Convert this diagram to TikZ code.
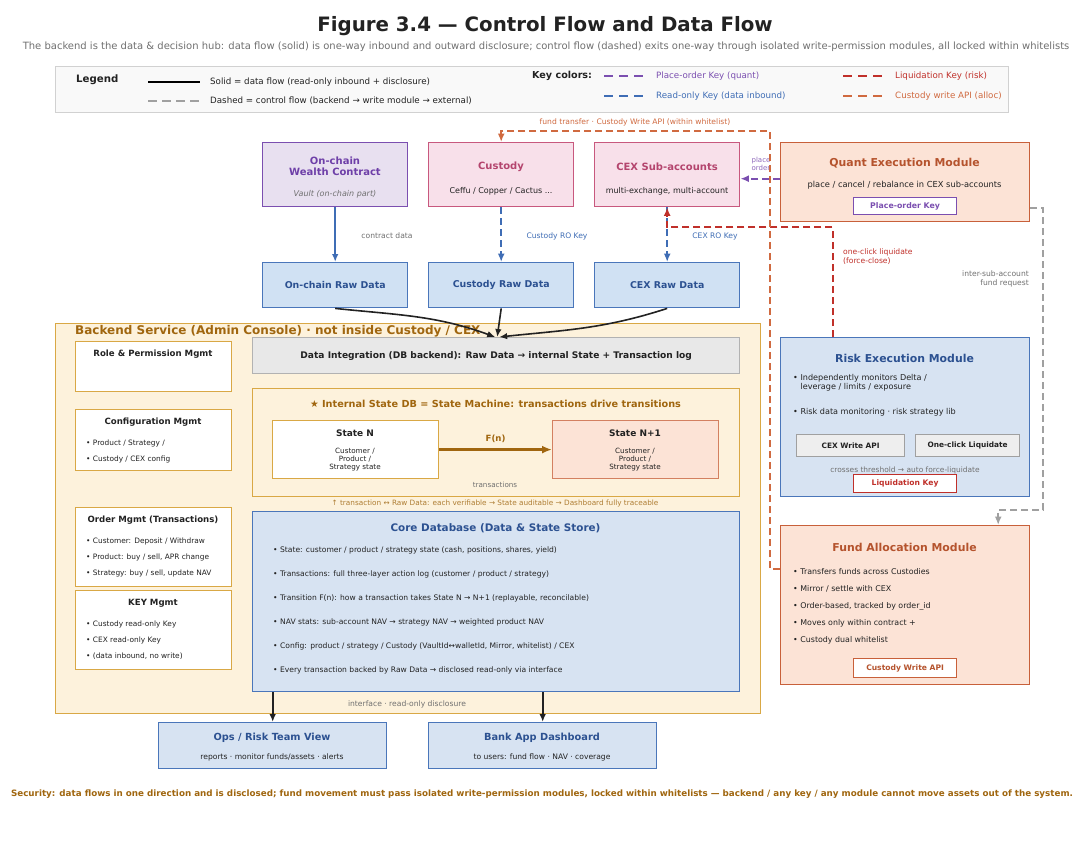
\documentclass[tikz,border=0pt]{standalone}
\usepackage{fontspec}
\setmainfont{DejaVu Sans}
\usetikzlibrary{arrows.meta, positioning}

\newcommand{\fsz}[2]{\fontsize{#1}{#2}\selectfont}

\definecolor{ink}{HTML}{222222}
\definecolor{muted}{HTML}{707070}
\definecolor{purpleB}{HTML}{7B4FB0}
\definecolor{purpleF}{HTML}{E8E0F0}
\definecolor{purpleT}{HTML}{6E3FA8}
\definecolor{pinkB}{HTML}{C8587E}
\definecolor{pinkF}{HTML}{F8E0EA}
\definecolor{pinkT}{HTML}{B4456E}
\definecolor{blueB}{HTML}{4A76BA}
\definecolor{rawF}{HTML}{D0E1F3}
\definecolor{coreF}{HTML}{D7E3F2}
\definecolor{blueT}{HTML}{2C5191}
\definecolor{orangeB}{HTML}{C8603A}
\definecolor{orangeF}{HTML}{FCE3D6}
\definecolor{orangeT}{HTML}{B5532D}
\definecolor{goldB}{HTML}{D9A845}
\definecolor{goldF}{HTML}{FDF2DC}
\definecolor{goldT}{HTML}{A0660F}
\definecolor{riskR}{HTML}{C0302A}
\definecolor{custO}{HTML}{D06A40}
\definecolor{roBlue}{HTML}{3F6DB5}
\definecolor{grayL}{HTML}{A0A0A0}
\definecolor{legF}{HTML}{F9F9F9}
\definecolor{integF}{HTML}{E8E8E8}
\definecolor{btnF}{HTML}{EEEEEE}

\begin{document}
\begin{tikzpicture}[x=1pt, y=-1pt,
  panel/.style={draw, line width=1.4pt, anchor=north west, inner sep=0pt},
  hd/.style={font=\bfseries\fsz{10}{11.5}, text=ink, inner sep=0pt},
  tx/.style={font=\fsz{8}{9}, text=ink, inner sep=0pt},
  bl/.style={font=\fsz{7.6}{9}, text=ink, inner sep=0pt, anchor=west},
  keybox/.style={draw, line width=1.2pt, fill=white, inner sep=0pt, anchor=north west, font=\bfseries\fsz{7.8}{9}},
  btn/.style={draw=grayL, line width=1.2pt, fill=btnF, inner sep=0pt, anchor=north west, font=\bfseries\fsz{7.4}{8}, text=ink},
  note/.style={font=\fsz{7.6}{9}, text=muted, inner sep=0pt},
  flow/.style={line width=1.6pt, -{Latex[length=8pt,width=6.5pt]}},
  ctrl/.style={line width=1.9pt, dash pattern=on 7pt off 4pt, -{Latex[length=8.5pt,width=7pt]}}
]
\path[use as bounding box, fill=white] (0,0) rectangle (1084,841);

% title
\node[font=\bfseries\fsz{19.8}{22}, text=ink] (title) at (545,26) {Figure 3.4 — Control Flow and Data Flow};
\node[font=\fsz{10}{12}, text=muted] (subtitle) at (546,47) {The backend is the data \& decision hub: data flow (solid) is one-way inbound and outward disclosure; control flow (dashed) exits one-way through isolated write-permission modules, all locked within whitelists};

% legend
\node[panel, draw=black!18, fill=legF, line width=1.2pt, minimum width=953pt, minimum height=46pt] (legend) at (55,66) {};
\node[hd, font=\bfseries\fsz{10.2}{11}, anchor=west] (legT) at (76,80) {Legend};
\coordinate (lgA) at (148,82); \coordinate (lgB) at (200,82);
\coordinate (lgC) at (148,101); \coordinate (lgD) at (200,101);
\draw[line width=2.2pt] (lgA) -- (lgB);
\draw[line width=2.2pt, grayL, dash pattern=on 9pt off 5pt] (lgC) -- (lgD);
\node[bl, font=\fsz{8.7}{9}] (legSolid) at (210,82) {Solid = data flow (read-only inbound + disclosure)};
\node[bl, font=\fsz{8.7}{9}] (legDash) at (210,101) {Dashed = control flow (backend → write module → external)};
\node[hd, font=\bfseries\fsz{9.6}{11}, anchor=west] (keyT) at (532,76) {Key colors:};
\foreach \nm/\xa/\ya/\col/\txt in {kq/604/76/purpleB/{Place-order Key (quant)}, kr/604/96/roBlue/{Read-only Key (data inbound)}, kl/843/76/riskR/{Liquidation Key (risk)}, kc/843/96/custO/{Custody write API (alloc)}}{
  \coordinate (\nm a) at (\xa,\ya);
  \coordinate (\nm b) at (\xa+41,\ya);
  \draw[line width=2.2pt, \col, dash pattern=on 9pt off 6pt] (\nm a) -- (\nm b);
  \node[bl, font=\fsz{8.7}{9}, text=\col] (\nm t) at (\xa+52,\ya) {\txt};
}

% top row: external systems
\node[panel, draw=purpleB, fill=purpleF, minimum width=145pt, minimum height=64pt] (wealth) at (262,142) {};
\node[hd, text=purpleT, align=center] (wealthT) at (335,166.5) {On-chain\\Wealth Contract};
\node[tx, font=\itshape\fsz{8}{9}, text=muted] (wealthS) at (335,194) {Vault (on-chain part)};
\node[panel, draw=pinkB, fill=pinkF, minimum width=145pt, minimum height=64pt] (custody) at (428,142) {};
\node[hd, text=pinkT] (custodyT) at (501,167) {Custody};
\node[tx] (custodyS) at (501,191) {Ceffu / Copper / Cactus ...};
\node[panel, draw=pinkB, fill=pinkF, minimum width=145pt, minimum height=64pt] (cex) at (594,142) {};
\node[hd, text=pinkT] (cexT) at (667,167) {CEX Sub-accounts};
\node[tx] (cexS) at (667,191) {multi-exchange, multi-account};

% quant module
\node[panel, draw=orangeB, fill=orangeF, minimum width=249pt, minimum height=79pt] (quant) at (780,142) {};
\node[hd, font=\bfseries\fsz{10.9}{12}, text=orangeT] (quantT) at (904.5,163) {Quant Execution Module};
\node[tx, font=\fsz{8.3}{9}] (quantS) at (904.5,185) {place / cancel / rebalance in CEX sub-accounts};
\node[keybox, draw=purpleB, text=purpleB, minimum width=103pt, minimum height=17pt] (placeKey) at (853,197) {Place-order Key};

% raw data row
\foreach \nm/\xa/\txt in {chainraw/262/{On-chain Raw Data}, custraw/428/{Custody Raw Data}, cexraw/594/{CEX Raw Data}}{
  \node[panel, draw=blueB, fill=rawF, minimum width=145pt, minimum height=45pt, font=\bfseries\fsz{9.4}{10}, text=blueT] (\nm) at (\xa,262) {\txt};
}

% backend container
\node[panel, draw=goldB, fill=goldF, minimum width=705pt, minimum height=390pt] (backend) at (55,323) {};
\node[hd, font=\bfseries\fsz{12}{13}, text=goldT, anchor=west] (backendT) at (75,331) {Backend Service (Admin Console) · not inside Custody / CEX};

% left column
\node[panel, draw=goldB, fill=white, minimum width=156pt, minimum height=50pt] (role) at (75,341) {};
\node[hd, font=\bfseries\fsz{8.6}{9}] (roleT) at (153,354) {Role \& Permission Mgmt};
\node[panel, draw=goldB, fill=white, minimum width=156pt, minimum height=61pt] (conf) at (75,409) {};
\node[hd, font=\bfseries\fsz{8.6}{9}] (confT) at (153,422) {Configuration Mgmt};
\node[bl, font=\fsz{7.4}{8}] (conf1) at (86,443) {• Product / Strategy /};
\node[bl, font=\fsz{7.4}{8}] (conf2) at (86,459) {• Custody / CEX config};
\node[panel, draw=goldB, fill=white, minimum width=156pt, minimum height=79pt] (order) at (75,507) {};
\node[hd, font=\bfseries\fsz{8.6}{9}] (orderT) at (153,520) {Order Mgmt (Transactions)};
\node[bl, font=\fsz{7.4}{8}] (order1) at (86,541) {• Customer: Deposit / Withdraw};
\node[bl, font=\fsz{7.4}{8}] (order2) at (86,557) {• Product: buy / sell, APR change};
\node[bl, font=\fsz{7.4}{8}] (order3) at (86,573) {• Strategy: buy / sell, update NAV};
\node[panel, draw=goldB, fill=white, minimum width=156pt, minimum height=79pt] (keym) at (75,590) {};
\node[hd, font=\bfseries\fsz{8.6}{9}] (keymT) at (153,603) {KEY Mgmt};
\node[bl, font=\fsz{7.4}{8}] (keym1) at (86,624) {• Custody read-only Key};
\node[bl, font=\fsz{7.4}{8}] (keym2) at (86,640) {• CEX read-only Key};
\node[bl, font=\fsz{7.4}{8}] (keym3) at (86,656) {• (data inbound, no write)};

% data integration
\node[panel, draw=black!30, fill=integF, minimum width=487pt, minimum height=36pt, font=\bfseries\fsz{9.1}{10}, text=ink] (integ) at (252,337) {Data Integration (DB backend): Raw Data → internal State + Transaction log};

% internal state machine
\node[panel, draw=goldB, fill=goldF, minimum width=487pt, minimum height=108pt] (statedb) at (252,388) {};
\node[hd, font=\bfseries\fsz{9.7}{10}, text=goldT] (statedbT) at (495.5,404) {★ Internal State DB = State Machine: transactions drive transitions};
\node[panel, draw=goldB, line width=1.2pt, fill=white, minimum width=166pt, minimum height=58pt] (stateN) at (272,420) {};
\node[hd, font=\bfseries\fsz{9}{10}] (stateNT) at (355,433) {State N};
\node[tx, font=\fsz{7.2}{8}, align=center] (stateNS) at (355,459.5) {Customer /\\Product /\\Strategy state};
\node[panel, draw=orangeB!80, line width=1.2pt, fill=orangeF, minimum width=166pt, minimum height=58pt] (stateN1) at (552,420) {};
\node[hd, font=\bfseries\fsz{9}{10}] (stateN1T) at (635,433) {State N+1};
\node[tx, font=\fsz{7.2}{8}, align=center] (stateN1S) at (635,459.5) {Customer /\\Product /\\Strategy state};
\draw[line width=2.4pt, goldT, -{Latex[length=10pt,width=8pt]}] (stateN) -- node[above=6pt, font=\bfseries\fsz{8.6}{9}, text=goldT, inner sep=0pt] (fnT) {F(n)} (stateN1);
\node[note, font=\fsz{7.2}{8}] (transT) at (495,485) {transactions};
\node[note, font=\fsz{7.3}{8}, text=goldT!85] (traceT) at (495,503) {↑ transaction ↔ Raw Data: each verifiable → State auditable → Dashboard fully traceable};

% core database
\node[panel, draw=blueB, fill=coreF, minimum width=487pt, minimum height=180pt] (core) at (252,511) {};
\node[hd, font=\bfseries\fsz{10.4}{11}, text=blueT] (coreT) at (495.5,528) {Core Database (Data \& State Store)};
\foreach \txt [count=\i from 0] in {{State: customer / product / strategy state (cash, positions, shares, yield)}, {Transactions: full three-layer action log (customer / product / strategy)}, {Transition F(n): how a transaction takes State N → N+1 (replayable, reconcilable)}, {NAV stats: sub-account NAV → strategy NAV → weighted product NAV}, {Config: product / strategy / Custody (VaultId↔walletId, Mirror, whitelist) / CEX}, {Every transaction backed by Raw Data → disclosed read-only via interface}}{
  \node[bl] (core\i) at (273,550+24*\i) {• \txt};
}

% outputs
\node[panel, draw=blueB, fill=coreF, minimum width=228pt, minimum height=46pt] (ops) at (158,722) {};
\node[hd, font=\bfseries\fsz{9.8}{11}, text=blueT] (opsT) at (272,738) {Ops / Risk Team View};
\node[tx, font=\fsz{7.6}{8}] (opsS) at (272,757) {reports · monitor funds/assets · alerts};
\node[panel, draw=blueB, fill=coreF, minimum width=228pt, minimum height=46pt] (bank) at (428,722) {};
\node[hd, font=\bfseries\fsz{9.8}{11}, text=blueT] (bankT) at (542,738) {Bank App Dashboard};
\node[tx, font=\fsz{7.6}{8}] (bankS) at (542,757) {to users: fund flow · NAV · coverage};
\node[note] (ifaceT) at (407,704) {interface · read-only disclosure};

% risk module
\node[panel, draw=blueB, fill=coreF, minimum width=249pt, minimum height=159pt] (risk) at (780,337) {};
\node[hd, font=\bfseries\fsz{10.9}{12}, text=blueT] (riskT) at (904.5,358) {Risk Execution Module};
\node[bl, font=\fsz{8.1}{9.5}, align=left, anchor=north west] (risk1) at (793,374) {• Independently monitors Delta /\\\phantom{• }leverage / limits / exposure};
\node[bl, font=\fsz{8.1}{9}] (risk2) at (793,412) {• Risk data monitoring · risk strategy lib};
\node[btn, minimum width=108pt, minimum height=22pt] (cexWrite) at (796,434) {CEX Write API};
\node[btn, minimum width=104pt, minimum height=22pt] (oneClick) at (915,434) {One-click Liquidate};
\node[note, font=\fsz{7.45}{8}] (threshT) at (905,470) {crosses threshold → auto force-liquidate};
\node[keybox, draw=riskR, text=riskR, minimum width=103pt, minimum height=18pt, font=\bfseries\fsz{7.6}{8}] (liqKey) at (853,474) {Liquidation Key};

% fund allocation module
\node[panel, draw=orangeB, fill=orangeF, minimum width=249pt, minimum height=159pt] (fund) at (780,525) {};
\node[hd, font=\bfseries\fsz{10.9}{12}, text=orangeT] (fundT) at (904.5,547) {Fund Allocation Module};
\foreach \txt [count=\i from 0] in {Transfers funds across Custodies, Mirror / settle with CEX, {Order-based, tracked by order\_id}, Moves only within contract +, Custody dual whitelist}{
  \node[bl, font=\fsz{7.9}{9}] (fund\i) at (793,572+17*\i) {• \txt};
}
\node[keybox, draw=orangeB, text=orangeT, minimum width=103pt, minimum height=19pt, font=\bfseries\fsz{7.6}{8}] (custKey) at (853,658) {Custody Write API};

% data flow: sources -> raw data
\draw[flow, roBlue] (wealth) -- (chainraw);
\draw[ctrl, roBlue] (custody) -- (custraw);
\draw[ctrl, roBlue] (cex) -- (cexraw);
\node[note] (contractT) at (387,236) {contract data};
\node[note, text=roBlue] (custRoT) at (557,236) {Custody RO Key};
\node[note, text=roBlue] (cexRoT) at (715,236) {CEX RO Key};

% raw data -> integration
\draw[flow, ink] (chainraw.south) to[out=-6, in=160] ([xshift=-1pt]integ.north);
\draw[flow, ink] (custraw.south) -- ([xshift=1pt]integ.north);
\draw[flow, ink] (cexraw.south) to[out=-162, in=6] ([xshift=3pt]integ.north);

% core -> outputs
\draw[flow, ink] (core.south -| ops.north) -- (ops.north);
\draw[flow, ink] (core.south -| bank.north) -- (bank.north);

% control flow: quant -> cex
\coordinate (cexIn) at ([yshift=-4pt]cex.east);
\draw[ctrl, purpleB] (quant.west |- cexIn) -- (cexIn);
\node[note, font=\fsz{7}{8}, text=purpleB!85, align=center] (placeT) at (761,164) {place\\order};

% control flow: risk -> cex
\draw[ctrl, riskR] ([xshift=-72.5pt]risk.north) |- ([yshift=-20pt]cex.south) -- (cex.south);
\node[note, text=riskR, align=left, anchor=north west] (liqT) at (843,249) {one-click liquidate\\(force-close)};

% control flow: fund -> custody
\draw[ctrl, custO] ([yshift=-44pt]fund.north west) -- ++(-10,0) |- ([yshift=11pt]custody.north) -- (custody.north);
\node[note, text=custO] (fundXT) at (635,122) {fund transfer · Custody Write API (within whitelist)};

% control flow: quant -> fund
\draw[ctrl, grayL] ([yshift=14pt]quant.south east) -- ++(13,0) |- ([xshift=93pt, yshift=15pt]fund.north) -- ([xshift=93pt]fund.north);
\node[note, align=right, anchor=north east] (interT) at (1029,271) {inter-sub-account\\fund request};

% footer
\node[font=\bfseries\fsz{8.75}{10}, text=goldT] (security) at (542,794) {Security: data flows in one direction and is disclosed; fund movement must pass isolated write-permission modules, locked within whitelists — backend / any key / any module cannot move assets out of the system.};
\end{tikzpicture}
\end{document}
